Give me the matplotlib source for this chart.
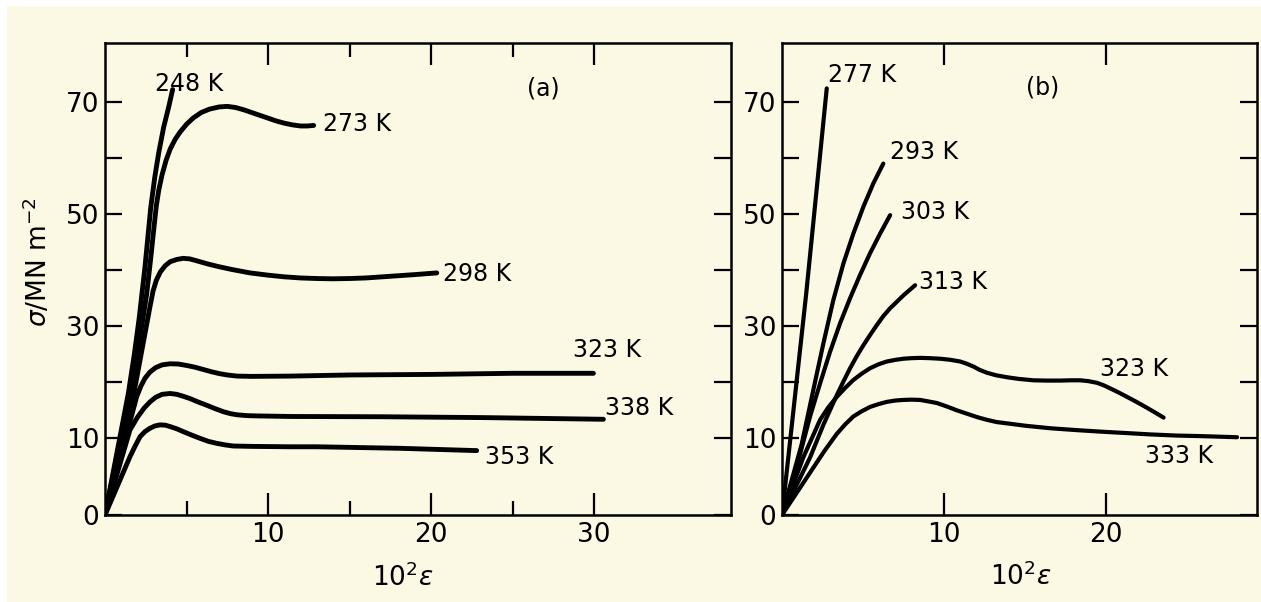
import numpy as np
import matplotlib
matplotlib.use("Agg")
import matplotlib.pyplot as plt
from matplotlib.patches import Rectangle
from matplotlib.ticker import FixedLocator, FixedFormatter

# ---------------- data: panel (a) ----------------
temps_a = ["248 K", "273 K", "298 K", "323 K", "338 K", "353 K"]

eps_248 = [0, 1.43, 1.8, 2.1, 2.45, 2.8, 3.05, 3.3, 3.6, 3.9, 4.15]
sig_248 = [0, 18.0, 25.0, 31.5, 40.5, 51.0, 56.5, 61.0, 65.5, 69.0, 72.2]

eps_273 = [0, 1.94, 2.56, 2.8, 3.0, 3.15, 3.3, 3.5, 3.75, 4.0, 4.3, 4.6, 5.0, 5.4, 5.9, 6.4,
           7.0, 7.5, 8.0, 8.5, 9.0, 9.5, 10.0, 10.5, 11.0, 11.5, 12.0, 12.4, 12.8]
sig_273 = [0, 24.0, 35.8, 42.0, 47.5, 51.5, 54.3, 57.0, 59.6, 61.6, 63.3, 64.6, 66.0, 67.1, 68.1, 68.7,
           69.1, 69.2, 69.0, 68.6, 68.1, 67.6, 67.1, 66.6, 66.2, 65.9, 65.7, 65.7, 65.8]

eps_298 = [0, 1.8, 2.76, 2.95, 3.15, 3.4, 3.7, 4.0, 4.4, 4.8, 5.2, 5.7, 6.3, 7.0, 7.8, 8.9,
           10.0, 11.0, 12.0, 13.0, 14.0, 15.0, 16.0, 17.0, 18.0, 19.0, 20.35]
sig_298 = [0, 18.5, 33.5, 36.3, 38.2, 39.7, 40.8, 41.5, 41.9, 42.1, 42.0, 41.6, 41.1, 40.6, 40.1, 39.5,
           39.1, 38.8, 38.6, 38.5, 38.45, 38.5, 38.6, 38.8, 39.0, 39.2, 39.5]

eps_323a = [0, 1.94, 2.2, 2.45, 2.75, 3.1, 3.5, 4.0, 4.5, 5.0, 5.5, 6.0, 6.5, 7.0, 7.5, 8.1,
            9.0, 11.35, 15.0, 20.0, 25.0, 29.96]
sig_323a = [0, 17.4, 19.3, 20.7, 21.8, 22.6, 23.1, 23.3, 23.25, 23.0, 22.7, 22.3, 21.9, 21.55, 21.3, 21.1,
            21.05, 21.1, 21.3, 21.4, 21.6, 21.6]

eps_338 = [0, 1.53, 2.0, 2.4, 2.76, 3.1, 3.5, 3.99, 4.4, 4.8, 5.21, 5.7, 6.24, 6.75, 7.26, 7.7,
           8.1, 8.7, 9.31, 11.35, 17.07, 23.21, 30.57]
sig_338 = [0, 11.5, 13.8, 15.4, 16.5, 17.3, 17.85, 18.0, 17.85, 17.5, 17.1, 16.5, 15.9, 15.3, 14.75, 14.4,
           14.2, 14.05, 14.0, 13.9, 13.85, 13.7, 13.4]

eps_353 = [0, 1.53, 1.85, 2.15, 2.45, 2.76, 3.05, 3.37, 3.7, 3.99, 4.4, 4.8, 5.3, 5.83, 6.35, 6.85,
           7.35, 7.87, 9.0, 11.35, 12.99, 18.1, 22.8]
sig_353 = [0, 7.6, 9.0, 10.3, 11.2, 11.8, 12.2, 12.4, 12.35, 12.1, 11.7, 11.2, 10.6, 10.0, 9.6, 9.35,
           9.15, 9.0, 8.95, 8.9, 8.9, 8.7, 8.4]

# ---------------- data: panel (b) ----------------
temps_b = ["277 K", "293 K", "303 K", "313 K", "323 K", "333 K"]

eps_277 = [0, 1.5, 2.76]
sig_277 = [0, 36.0, 72.4]

eps_293 = [0, 1.21, 1.93, 2.55, 3.17, 3.79, 4.40, 5.02, 5.64, 6.25]
sig_293 = [0, 9.2, 18.6, 26.9, 34.7, 41.2, 46.5, 51.3, 55.5, 59.0]

eps_303 = [0, 1.11, 1.73, 2.35, 2.96, 3.58, 4.20, 4.81, 5.43, 6.05, 6.67]
sig_303 = [0, 7.9, 13.9, 19.8, 25.4, 30.5, 35.0, 39.1, 43.0, 46.5, 49.8]

eps_313 = [0, 1.73, 2.55, 3.38, 3.8, 4.20, 4.6, 5.02, 5.45, 5.85, 6.25, 6.67, 7.1, 7.49, 8.21]
sig_313 = [0, 7.5, 12.4, 17.7, 20.2, 22.5, 24.6, 26.6, 28.5, 30.2, 31.8, 33.2, 34.4, 35.5, 37.3]

eps_323b = [0, 1.31, 2.35, 2.85, 3.38, 3.9, 4.4, 4.9, 5.43, 5.95, 6.46, 7.0, 7.49, 8.0, 8.52, 9.1,
            9.75, 10.4, 10.99, 11.4, 11.81, 12.2, 12.64, 13.2, 13.87, 14.6, 15.51, 16.3, 17.16,
            17.8, 18.4, 18.9, 19.43, 19.85, 20.25, 20.75, 21.28, 21.8, 22.3, 22.9, 23.54]
sig_323b = [0, 7.5, 13.3, 15.5, 17.4, 19.0, 20.4, 21.5, 22.5, 23.2, 23.7, 24.0, 24.2, 24.3, 24.35, 24.3,
            24.2, 24.0, 23.7, 23.3, 22.8, 22.2, 21.7, 21.25, 20.9, 20.6, 20.35, 20.3, 20.3,
            20.35, 20.35, 20.2, 19.9, 19.45, 18.9, 18.2, 17.4, 16.6, 15.8, 14.8, 13.7]

eps_333 = [0, 2.6, 3.38, 3.9, 4.40, 4.9, 5.43, 5.95, 6.46, 7.0, 7.49, 8.0, 8.52, 9.0, 9.55, 10.15,
           10.78, 11.4, 12.02, 12.64, 13.25, 14.07, 15.0, 16.54, 18.0, 19.63, 21.2, 22.72, 24.3,
           25.8, 28.07]
sig_333 = [0, 8.3, 10.8, 12.5, 13.9, 14.8, 15.6, 16.1, 16.5, 16.75, 16.85, 16.9, 16.85, 16.6, 16.3, 15.7,
           15.0, 14.4, 13.8, 13.3, 12.9, 12.6, 12.25, 11.8, 11.5, 11.2, 10.95, 10.7, 10.5,
           10.4, 10.2]

# axis ticks / labels
ytick_vals = [0, 10, 20, 30, 40, 50, 60, 70]
ytick_labels = ["0", "10", "", "30", "", "50", "", "70"]
xmaj_a = [10, 20, 30]
xmin_a = [5, 15, 25]
xmaj_b = [10, 20]

# ---------------- style / layout ----------------
BG = "#fbf9e3"
W, H = 1261, 602
plt.rcParams["font.family"] = ["DejaVu Sans"]
plt.rcParams["mathtext.fontset"] = "dejavusans"

# hand-drawn original: the 0-10 interval is drawn wider than the others
K = 1.367
def fwd(y):
    y = np.asarray(y, dtype=float)
    return np.where(y <= 10, y * K, 10 * K + (y - 10))
def inv(u):
    u = np.asarray(u, dtype=float)
    return np.where(u <= 10 * K, u / K, u - 10 * K + 10)

fig = plt.figure(figsize=(W / 100, H / 100), dpi=100, facecolor=BG)
# white scan margin at top and left
fig.patches.append(Rectangle((0, 1 - 6 / H), 1, 6 / H, transform=fig.transFigure,
                             facecolor="white", edgecolor="none", zorder=-1))
fig.patches.append(Rectangle((0, 0), 7 / W, 1, transform=fig.transFigure,
                             facecolor="white", edgecolor="none", zorder=-1))

bottom = 1 - 515 / H
height = (515 - 43) / H
ax_a = fig.add_axes([105 / W, bottom, (731 - 105) / W, height])
ax_b = fig.add_axes([782 / W, bottom, (1257 - 782) / W, height])

LW_A = 3.5
LW_B = 3.0
TICK_FS = 19
LAB_FS = 17

def style_axes(ax, xmax, xmaj, xmin=None):
    ax.set_facecolor("none")
    ax.set_yscale("function", functions=(fwd, inv))
    ax.set_ylim(0, 80.5)
    ax.set_xlim(0, xmax)
    for s in ax.spines.values():
        s.set_linewidth(1.8)
    ax.yaxis.set_major_locator(FixedLocator(ytick_vals))
    ax.yaxis.set_major_formatter(FixedFormatter(ytick_labels))
    ax.yaxis.set_minor_locator(FixedLocator([]))
    ax.xaxis.set_major_locator(FixedLocator(xmaj))
    ax.xaxis.set_major_formatter(FixedFormatter([str(v) for v in xmaj]))
    if xmin is not None:
        ax.xaxis.set_minor_locator(FixedLocator(xmin))
    else:
        ax.xaxis.set_minor_locator(FixedLocator([]))
    ax.tick_params(axis="y", which="major", direction="in", left=True, right=True,
                   length=12, width=1.6, labelsize=TICK_FS, pad=4)
    ax.tick_params(axis="x", which="major", direction="in", top=True, bottom=True,
                   length=15.5, width=1.6, labelsize=TICK_FS, pad=5)
    ax.tick_params(axis="x", which="minor", direction="in", top=True, bottom=True,
                   length=10, width=1.6)

style_axes(ax_a, 38.4, xmaj_a, xmin_a)
style_axes(ax_b, 29.3, xmaj_b)

curves_a = [(eps_248, sig_248), (eps_273, sig_273), (eps_298, sig_298),
            (eps_323a, sig_323a), (eps_338, sig_338), (eps_353, sig_353)]
curves_b = [(eps_277, sig_277), (eps_293, sig_293), (eps_303, sig_303),
            (eps_313, sig_313), (eps_323b, sig_323b), (eps_333, sig_333)]

for e, s in curves_a:
    ax_a.plot(e, s, color="black", lw=LW_A, solid_capstyle="round", solid_joinstyle="round")
for e, s in curves_b:
    ax_b.plot(e, s, color="black", lw=LW_B, solid_capstyle="round", solid_joinstyle="round")

# curve labels (left edge, baseline) in data coordinates
label_pos_a = [(3.07, 72.0), (13.37, 64.85), (20.74, 38.0), (28.71, 24.5), (30.67, 14.1), (23.31, 6.7)]
label_pos_b = [(2.84, 73.6), (6.67, 59.9), (7.35, 49.2), (8.46, 36.7), (19.63, 21.2), (22.4, 6.8)]
for t, (x, y) in zip(temps_a, label_pos_a):
    ax_a.text(x, y, t, fontsize=LAB_FS, ha="left", va="baseline")
for t, (x, y) in zip(temps_b, label_pos_b):
    ax_b.text(x, y, t, fontsize=LAB_FS, ha="left", va="baseline")

ax_a.text(25.9, 72.3, "(a)", fontsize=LAB_FS, ha="left", va="center")
ax_b.text(15.06, 72.5, "(b)", fontsize=LAB_FS, ha="left", va="center")

# axis labels
ax_a.set_ylabel(r"$\sigma$/MN m$^{-2}$", fontsize=19, va="center")
ax_a.yaxis.set_label_coords(-0.107, 0.536)
ax_a.set_xlabel(r"$10^2\epsilon$", fontsize=19, va="center")
ax_a.xaxis.set_label_coords(0.476, -0.133)
ax_b.set_xlabel(r"$10^2\epsilon$", fontsize=19, va="center")
ax_b.xaxis.set_label_coords(0.503, -0.131)

fig.savefig("out.png", dpi=100, facecolor=BG)
